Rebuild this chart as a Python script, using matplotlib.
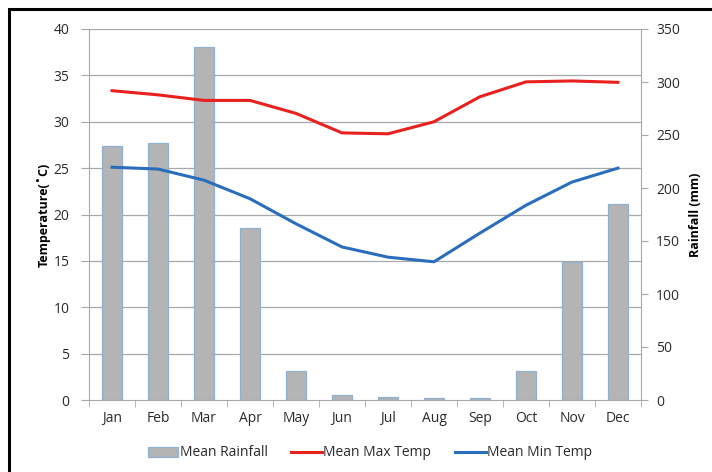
import matplotlib
matplotlib.use("Agg")
import matplotlib.pyplot as plt
from matplotlib.patches import Rectangle
import numpy as np

months = ["Jan", "Feb", "Mar", "Apr", "May", "Jun", "Jul", "Aug", "Sep", "Oct", "Nov", "Dec"]
rainfall = [240, 242, 333, 162, 27.7, 4.7, 2.5, 1.5, 2.0, 27.7, 130, 185]
max_temp = [33.35, 32.9, 32.3, 32.3, 30.9, 28.8, 28.7, 30.0, 32.7, 34.3, 34.4, 34.25]
min_temp = [25.1, 24.9, 23.7, 21.7, 19.0, 16.5, 15.4, 14.9, 18.0, 21.0, 23.5, 25.0]
temp_ticks = [0, 5, 10, 15, 20, 25, 30, 35, 40]
rain_ticks = [0, 50, 100, 150, 200, 250, 300, 350]

plt.rcParams['font.family'] = ['Open Sans', 'DejaVu Sans']

W, H = 712, 472
fig = plt.figure(figsize=(W / 100, H / 100), dpi=100)
fig.patch.set_facecolor('white')

L, R, T, B = 89, 641, 29, 400
ax = fig.add_axes([L / W, 1 - B / H, (R - L) / W, (B - T) / H])
ax2 = ax.twinx()

x = np.arange(len(months))
gridc = '#a8a8a8'
ax2.bar(x, rainfall, width=0.44, color='#b4b4b4', edgecolor='#8fb0cf', linewidth=0.9,
        label='Mean Rainfall', zorder=2)
ax2.set_ylim(0, 350)
ax2.set_yticks(rain_ticks)

ax.set_zorder(ax2.get_zorder() + 1)
ax.patch.set_visible(False)
ax.plot(x, max_temp, color='#e8201e', lw=2.2, label='Mean Max Temp', zorder=3)
ax.plot(x, min_temp, color='#2a6ebb', lw=2.2, label='Mean Min Temp', zorder=3)
ax.set_ylim(0, 40)
ax.set_yticks(temp_ticks)
ax.set_xlim(-0.5, len(months) - 0.5)
ax.set_xticks(x)
ax.set_xticklabels(months)

for a in (ax, ax2):
    for s in a.spines.values():
        s.set_visible(False)
ax.spines['left'].set_visible(True)
ax.spines['left'].set_color(gridc)
ax.spines['bottom'].set_visible(True)
ax.spines['bottom'].set_color(gridc)
ax2.spines['right'].set_visible(True)
ax2.spines['right'].set_color(gridc)

for t in temp_ticks[1:]:
    ax2.axhline(t * 350 / 40, color=gridc, lw=0.9, zorder=1)

ax.tick_params(axis='y', length=6, color=gridc, labelsize=10, labelcolor='#2a2a2a', pad=8)
ax2.tick_params(axis='y', length=5, color=gridc, labelsize=10, labelcolor='#2a2a2a', pad=6)
ax.tick_params(axis='x', length=0, labelsize=10, labelcolor='#2a2a2a', pad=8)
ax.set_xticks(np.arange(-0.5, len(months), 1), minor=True)
ax.tick_params(axis='x', which='minor', length=5, color=gridc)

ax.set_ylabel('Temperature(˚C)', fontsize=9, fontweight='bold', labelpad=2)
ax2.set_ylabel('Rainfall (mm)', fontsize=9, fontweight='bold', labelpad=6)

h1, l1 = ax2.get_legend_handles_labels()
h2, l2 = ax.get_legend_handles_labels()
fig.legend(h1 + h2, l1 + l2, loc='center', bbox_to_anchor=(370 / W, 1 - 453 / H), ncol=3,
           frameon=False, fontsize=10, handlelength=2.2, handletextpad=0.1, columnspacing=1.7,
           labelcolor='#2a2a2a')

fig.patches.append(Rectangle((9 / W, -0.01), 1.0, 1 - 9 / H + 0.01, transform=fig.transFigure,
                             fill=False, edgecolor='black', linewidth=2.2))

fig.savefig('out.png', dpi=100)
